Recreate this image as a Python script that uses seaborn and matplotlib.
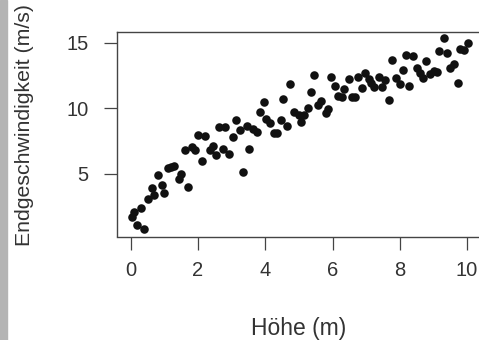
import matplotlib
matplotlib.use("Agg")
import matplotlib.pyplot as plt
import seaborn as sns
from matplotlib.patches import Rectangle

# Daten
hoehe = [0.03, 0.10, 0.31, 0.18, 0.40, 0.52, 0.62, 0.70, 0.82, 0.92,
         1.00, 1.12, 1.21, 1.29, 1.49, 1.44, 1.71, 1.62, 1.81, 1.91,
         2.11, 2.01, 2.21, 2.36, 2.44, 2.54, 2.61, 2.81, 2.74, 2.93,
         3.04, 3.13, 3.25, 3.33, 3.45, 3.53, 3.63, 3.75, 3.83, 3.95,
         4.03, 4.13, 4.27, 4.35, 4.46, 4.54, 4.64, 4.74, 4.84, 4.99,
         5.06, 5.14, 5.26, 5.36, 5.46, 5.58, 5.65, 5.80, 5.88, 5.95,
         6.08, 6.15, 6.28, 6.35, 6.48, 6.58, 6.68, 6.77, 6.88, 6.97,
         7.07, 7.14, 7.22, 7.37, 7.47, 7.57, 7.67, 7.77, 7.90, 8.00,
         8.10, 8.19, 8.26, 8.39, 8.51, 8.61, 8.69, 8.79, 8.89, 9.01,
         9.11, 9.18, 9.30, 9.40, 9.50, 9.60, 9.72, 9.80, 9.90, 10.02]
geschw = [1.72, 2.10, 2.38, 1.08, 0.75, 3.05, 3.90, 3.37, 4.93, 4.14,
          3.55, 5.46, 5.53, 5.59, 4.98, 4.57, 4.00, 6.80, 7.06, 6.81,
          5.99, 7.95, 7.88, 6.81, 7.11, 6.43, 8.54, 8.59, 6.89, 6.50,
          7.83, 9.10, 8.34, 5.15, 8.64, 6.89, 8.39, 8.21, 9.73, 10.50,
          9.15, 8.85, 8.08, 8.13, 9.10, 10.68, 8.64, 11.85, 9.69, 9.48,
          8.97, 9.48, 9.99, 11.21, 12.53, 10.24, 10.57, 9.61, 9.92, 12.36,
          11.69, 10.93, 10.88, 11.44, 12.20, 10.88, 10.88, 12.36, 11.52, 12.66,
          12.20, 11.95, 11.60, 12.36, 11.60, 12.15, 10.63, 13.68, 12.28, 11.85,
          12.92, 14.06, 11.69, 14.00, 13.04, 12.66, 12.28, 13.60, 12.59, 12.84,
          12.74, 14.37, 15.34, 14.19, 13.09, 13.35, 11.90, 14.52, 14.44, 14.95]
x_ticks = [0, 2, 4, 6, 8, 10]
y_ticks = [5, 10, 15]

sns.set_style("white")
plt.rcParams['font.family'] = ['Liberation Sans', 'DejaVu Sans']

W, H = 479, 340
fig = plt.figure(figsize=(W / 100, H / 100), dpi=100)
ax = fig.add_axes([117.3 / W, 1 - 236.5 / H, (480.5 - 117.3) / W, (236.5 - 31.7) / H])

sns.scatterplot(x=hoehe, y=geschw, ax=ax, color="#111111", s=38, linewidth=0)

ax.set_xlim(-0.4, 10.4)
ax.set_ylim(0.21, 15.84)
ax.set_xticks(x_ticks)
ax.set_yticks(y_ticks)

txt = "#333333"
ax.tick_params(axis="both", direction="out", length=9.5, width=0.9, color="#444444",
               labelsize=14.5, labelcolor=txt, left=True, bottom=True)
ax.tick_params(axis="x", pad=8)
ax.tick_params(axis="y", pad=11)
for sp in ax.spines.values():
    sp.set_color("#444444")
    sp.set_linewidth(1.0)

ax.set_xlabel("Höhe (m)", fontsize=16.5, color=txt)
ax.set_ylabel("Endgeschwindigkeit (m/s)", fontsize=15.3, color=txt)
ax.xaxis.set_label_coords(0.5, -0.395)
ax.yaxis.set_label_coords(-0.229, 0.542)

# grauer Rand links (Screenshot)
fig.patches.append(Rectangle((0, 0), 7 / W, 1, transform=fig.transFigure,
                             color="#b4b4b4", zorder=-1))

fig.savefig("out.png", dpi=100)
